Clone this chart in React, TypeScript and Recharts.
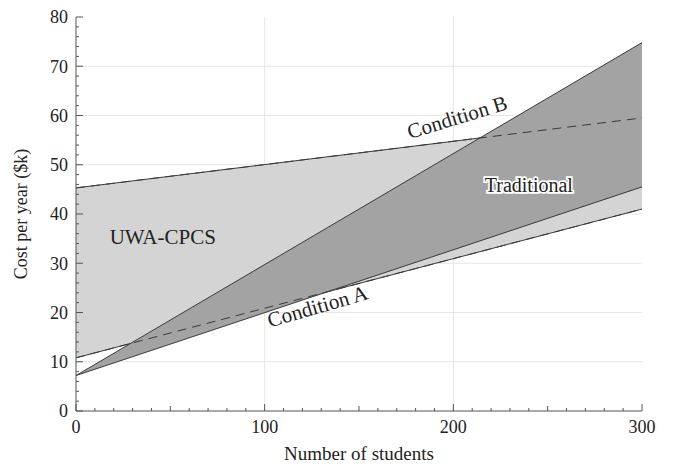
import React from 'react';
import { ComposedChart, Area, Line, XAxis, YAxis, CartesianGrid, ReferenceDot } from 'recharts';

const students = [0, 300];
const uwaLow = [10.8, 41];
const uwaHigh = [45.3, 59.5];
const tradLow = [7.2, 45.5];
const tradHigh = [7.2, 74.8];

const xMajorTicks = [0, 100, 200, 300];
const yMajorTicks = [0, 10, 20, 30, 40, 50, 60, 70, 80];
const xGridValues = [100, 200];
const yGridValues = [10, 20, 30, 40, 50, 60, 70];
const xMinorTicks = Array.from({ length: 31 }, (_, i) => i * 10);
const yMinorTicks = Array.from({ length: 41 }, (_, i) => i * 2);

const labels = [
  { text: 'UWA-CPCS', x: 46, y: 35.3, angle: 0, halo: false, size: 21 },
  { text: 'Traditional', x: 240, y: 45.9, angle: 0, halo: true, size: 20 },
  { text: 'Condition B', x: 202, y: 59.7, angle: -17, halo: false, size: 21 },
  { text: 'Condition A', x: 128, y: 21.3, angle: -16, halo: false, size: 21 },
];

const data = students.map((s, i) => ({
  students: s,
  uwa: [uwaLow[i], uwaHigh[i]],
  trad: [tradLow[i], tradHigh[i]],
  uwaLow: uwaLow[i],
  uwaHigh: uwaHigh[i],
}));

const FONT = '"Liberation Serif", "Times New Roman", serif';
const AXIS = '#555';
const TEXT = '#222';

const BottomTick = (props: any) => {
  const { x, y, payload } = props;
  const v = payload.value;
  const len = v % 100 === 0 ? 7 : v % 50 === 0 ? 5 : 3;
  return (
    <g>
      <line x1={x} x2={x} y1={y} y2={y - len} stroke={AXIS} />
      {xMajorTicks.includes(v) && (
        <text x={x} y={y + 16} dy="0.35em" textAnchor="middle" style={{ fontFamily: FONT, fill: TEXT }} fontSize={18}>
          {v}
        </text>
      )}
    </g>
  );
};

const TopTick = (props: any) => {
  const { x, y, payload } = props;
  const v = payload.value;
  const len = v % 100 === 0 ? 7 : v % 50 === 0 ? 5 : 3;
  return <line x1={x} x2={x} y1={y} y2={y + len} stroke={AXIS} />;
};

const LeftTick = (props: any) => {
  const { x, y, payload } = props;
  const v = payload.value;
  const len = v % 10 === 0 ? 7 : 3;
  return (
    <g>
      <line x1={x} x2={x + len} y1={y} y2={y} stroke={AXIS} />
      {yMajorTicks.includes(v) && (
        <text x={x - 8} y={y} dy="0.35em" textAnchor="end" style={{ fontFamily: FONT, fill: TEXT }} fontSize={18}>
          {v}
        </text>
      )}
    </g>
  );
};

const RightTick = (props: any) => {
  const { x, y, payload } = props;
  const v = payload.value;
  const len = v % 10 === 0 ? 7 : 3;
  return <line x1={x} x2={x - len} y1={y} y2={y} stroke={AXIS} />;
};

const makeLabel = (l: any) => (p: any) => (
  <text
    x={p.cx}
    y={p.cy}
    dy="0.35em"
    textAnchor="middle"
    style={{ fontFamily: FONT, fill: TEXT }}
    fontSize={l.size}
    transform={`rotate(${l.angle} ${p.cx} ${p.cy})`}
    stroke={l.halo ? '#fff' : 'none'}
    strokeWidth={l.halo ? 3.5 : 0}
    paintOrder="stroke"
  >
    {l.text}
  </text>
);

export default function App() {
  return (
    <div style={{ position: 'absolute', left: 0, top: 0, background: '#fff' }}>
      <ComposedChart width={673} height={466} data={data} margin={{ top: 17, right: 31, bottom: 0, left: 0 }}>
        <CartesianGrid horizontalValues={yGridValues} verticalValues={xGridValues} stroke="#e6e6e6" />
        <XAxis
          dataKey="students"
          type="number"
          domain={[0, 300]}
          ticks={xMinorTicks}
          interval={0}
          tickSize={0}
          tickMargin={0}
          tickLine={false}
          tick={<BottomTick />}
          axisLine={{ stroke: AXIS }}
          height={55}
          label={{ value: 'Number of students', position: 'insideBottom', offset: 6, style: { fontFamily: FONT, fill: TEXT }, fontSize: 19 }}
        />
        <XAxis
          xAxisId="top"
          orientation="top"
          type="number"
          domain={[0, 300]}
          ticks={xMinorTicks}
          interval={0}
          tickSize={0}
          tickMargin={0}
          tickLine={false}
          tick={<TopTick />}
          axisLine={{ stroke: AXIS }}
          height={0}
        />
        <YAxis
          type="number"
          domain={[0, 80]}
          ticks={yMinorTicks}
          interval={0}
          tickSize={0}
          tickMargin={0}
          tickLine={false}
          tick={<LeftTick />}
          axisLine={{ stroke: AXIS }}
          width={76}
          label={{ value: 'Cost per year ($k)', angle: -90, position: 'insideLeft', offset: 21, style: { textAnchor: 'middle', fontFamily: FONT, fill: TEXT }, fontSize: 18 }}
        />
        <YAxis
          yAxisId="right"
          orientation="right"
          type="number"
          domain={[0, 80]}
          ticks={yMinorTicks}
          interval={0}
          tickSize={0}
          tickMargin={0}
          tickLine={false}
          tick={<RightTick />}
          axisLine={{ stroke: AXIS }}
          width={0}
        />
        <Area
          dataKey="uwa"
          type="linear"
          fill="#d4d4d4"
          fillOpacity={1}
          stroke="#3a3a3a"
          strokeWidth={1}
          dot={false}
          activeDot={false}
          isAnimationActive={false}
        />
        <Area
          dataKey="trad"
          type="linear"
          fill="#a3a3a3"
          fillOpacity={1}
          stroke="#3a3a3a"
          strokeWidth={1}
          dot={false}
          activeDot={false}
          isAnimationActive={false}
        />
        <Line dataKey="uwaHigh" type="linear" stroke="#3a3a3a" strokeWidth={1} strokeDasharray="9 6" dot={false} activeDot={false} isAnimationActive={false} />
        <Line dataKey="uwaLow" type="linear" stroke="#3a3a3a" strokeWidth={1} strokeDasharray="9 6" dot={false} activeDot={false} isAnimationActive={false} />
        {labels.map((l) => (
          <ReferenceDot key={l.text} x={l.x} y={l.y} r={0} shape={makeLabel(l)} />
        ))}
      </ComposedChart>
    </div>
  );
}
